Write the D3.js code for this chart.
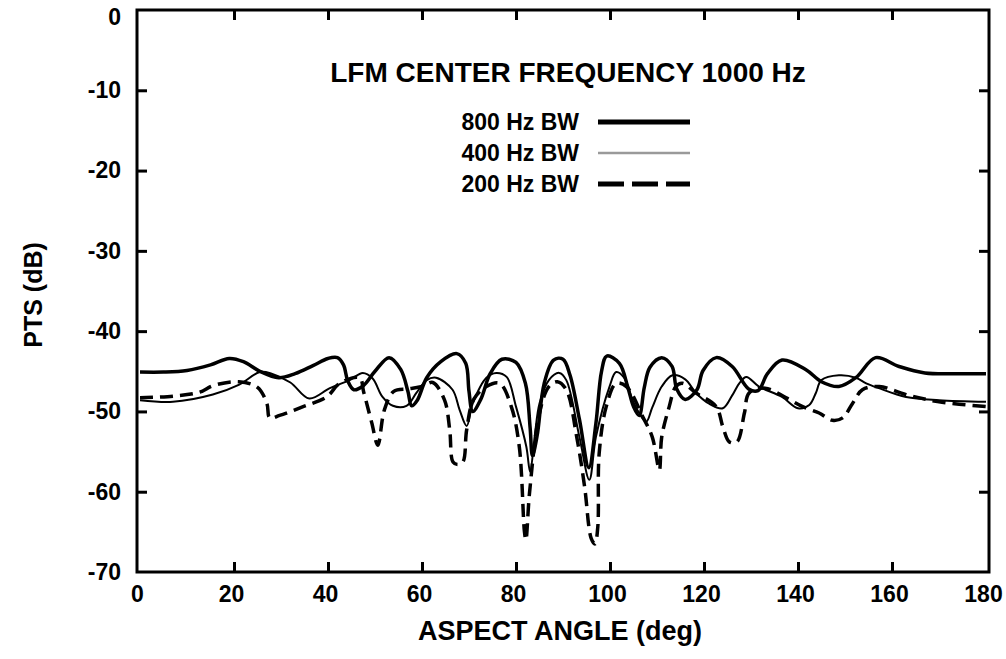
<!DOCTYPE html>
<html>
<head>
<meta charset="utf-8">
<script src="https://cdn.jsdelivr.net/npm/d3@7"></script>
<style>
  body { margin: 0; background: #fff; }
  text { font-family: "Liberation Sans", Arial, Helvetica, sans-serif; font-weight: bold; fill: #000; }
</style>
</head>
<body>
<div class="chart"></div>
<script>
const width = 1006;
const height = 659;

// tick values
const xTicks = [0, 20, 40, 60, 80, 100, 120, 140, 160, 180];
const yTicks = [0, -10, -20, -30, -40, -50, -60, -70];

// [aspect angle (deg), PTS (dB)]
const bw800 = [
  [0, -45.1], [5, -45.1], [10, -44.9], [15, -44.2], [19, -43.4], [22, -43.8], [25.5, -45.0],
  [29.5, -45.8], [33, -45.3], [36.8, -44.3], [40, -43.4], [42, -43.3], [43.3, -44.2],
  [44.2, -46.2], [45.5, -47.3], [47.5, -46.8], [50, -45.0], [53, -43.3], [55.5, -44.8],
  [57, -47.5], [57.8, -49.3], [59, -48.6], [61, -45.8], [64, -43.8], [67.4, -42.8],
  [69.3, -44.0], [70, -47.5], [70.8, -50.0], [72.5, -48.5], [74.5, -45.3], [77, -43.5],
  [80, -43.9], [82, -46.5], [83, -52], [83.5, -55.5], [84.5, -53], [86, -46.5], [88, -43.6],
  [90, -43.5], [91.5, -45.5], [93.5, -51], [95.5, -57], [97, -51.5], [98.2, -45], [99.3, -43.1],
  [102, -44], [103.8, -47], [105, -49.4], [106.2, -50.5], [107.3, -47], [108.5, -44.5],
  [111, -43.3], [113.2, -44.4], [114.2, -47.2], [116, -48.5], [118.5, -47.3], [119.8, -44.9],
  [122.6, -43.3], [126, -44.4], [129.5, -47.2], [131.5, -47.4], [133.5, -45.3], [136.6, -43.6],
  [141.7, -44.8], [145, -46.3], [148.7, -46.9], [152.3, -45.8], [156.5, -43.3], [161.5, -44.4],
  [167, -45.2], [174, -45.3], [180, -45.3]
];

const bw400 = [
  [0, -48.6], [7, -48.8], [15.5, -47.9], [21, -46.7], [25.5, -45.1], [28, -45.3], [32, -46.4],
  [36, -48.4], [40.4, -47.1], [44.6, -46.1], [47.4, -45.2], [49.5, -45.9], [51.6, -48.2],
  [53.8, -49.3], [56.7, -49.3], [58.8, -47.7], [61, -46.1], [63, -45.8], [66.5, -47.3],
  [68, -49.8], [69.5, -51.8], [70.8, -49], [73.7, -45.8], [75.8, -45.2], [78, -45.7],
  [80, -49.4], [82.2, -54.4], [83, -57.5], [84, -53], [85, -49], [87, -46.1], [89.2, -45.2],
  [90.7, -46.1], [93.5, -53.2], [95.6, -58.5], [97, -53.2], [99.9, -46.9], [101.3, -45.1],
  [103, -45.8], [104.8, -48.6], [106.2, -50.2], [107.7, -51.3], [109, -49.5], [111, -46.9],
  [113.3, -45.5], [116, -46], [118.3, -47.7], [121, -49], [124, -49.6], [126, -48],
  [127.5, -46.5], [129, -45.7], [131.7, -46.9], [136.6, -48.2], [140, -49.6], [142.4, -49.2],
  [143.8, -47.7], [145, -46.1], [148.7, -45.5], [152.3, -45.8], [154.5, -46.5], [157.2, -47.1],
  [163, -48.2], [170, -48.6], [180, -48.8]
];

const bw200 = [
  [0, -48.3], [7, -48.1], [12.7, -47.6], [15.5, -46.8], [21, -46.3], [25, -47], [27, -49],
  [27.6, -50.8], [29.7, -50.5], [34.7, -49.4], [39.7, -48.2], [42.5, -46.5], [46.7, -45.8],
  [47.6, -47.6], [49.3, -51.4], [50.6, -54.2], [52, -49.8], [54, -47.5], [57, -47.2],
  [60, -46.9], [62.3, -46.4], [64.8, -48.6], [65.9, -52.3], [66.6, -56.3], [67.6, -56.6],
  [68.7, -56.3], [69.5, -52.3], [71, -48.5], [73.7, -46.9], [76.5, -46.5], [79, -49.4],
  [80.7, -54.4], [81.8, -65], [82.1, -66], [82.9, -60], [85, -50.2], [87, -46.9], [88.8, -46.3],
  [90.7, -47.3], [92.9, -53.1], [94.6, -59.4], [96, -65.8], [96.8, -66.5], [97.4, -64.4],
  [97.7, -55.2], [99.2, -49.4], [101.3, -46.5], [103.5, -46.9], [107, -50.7], [109, -53.2],
  [110.5, -57.3], [111, -53.2], [112.6, -49.4], [114, -46.9], [115.4, -46.5], [118.3, -47.7],
  [122.6, -49.4], [124, -51.9], [125.4, -53.8], [127, -53.8], [128.6, -50.2], [129.6, -47.7],
  [133, -47.1], [137.5, -48.3], [141, -49.4], [144.5, -50.2], [147.3, -51.1], [149.5, -50.8],
  [151.6, -49], [153.7, -47.3], [157.3, -46.9], [163, -47.9], [170, -48.8], [180, -49.4]
];

const legendNames = ["800 Hz BW", "400 Hz BW", "200 Hz BW"];
const chartTitle = "LFM CENTER FREQUENCY 1000 Hz";

const svg = d3.select(".chart")
  .append("svg")
  .attr("width", width)
  .attr("height", height)
  .style("background", "#fff");

const x = d3.scaleLinear().domain([0, 180]).range([140, 986]);
const y = d3.scaleLinear().domain([-70, 0]).range([572, 10]);

const left = 137, right = 989;

// inward ticks on all four sides, labels only left and bottom
const styleAxis = g => {
  g.select(".domain").remove();
  g.selectAll(".tick line").attr("stroke", "#000").attr("stroke-width", 3);
  g.selectAll(".tick text")
    .style("font-size", "23px")
    .style("font-family", "'Liberation Sans', Arial, sans-serif")
    .style("font-weight", "bold");
};

const inner = [20, 40, 60, 80, 100, 120, 140, 160];
const innerY = [-10, -20, -30, -40, -50, -60];

svg.append("g")
  .attr("transform", `translate(0,${y(-70)})`)
  .call(d3.axisBottom(x).tickValues(xTicks).tickSize(-10).tickPadding(14).tickFormat(d => d))
  .call(styleAxis)
  .call(g => g.selectAll(".tick text").attr("dx", -3))
  .call(g => g.selectAll(".tick line").filter(d => d === 0 || d === 180).remove());

svg.append("g")
  .attr("transform", `translate(0,${y(0)})`)
  .call(d3.axisTop(x).tickValues(inner).tickSize(-10).tickFormat(""))
  .call(styleAxis);

svg.append("g")
  .attr("transform", `translate(${left},0)`)
  .call(d3.axisLeft(y).tickValues(yTicks).tickSize(-10).tickPadding(16).tickFormat(d => d))
  .call(styleAxis)
  .call(g => g.selectAll(".tick text").filter(d => d === 0).attr("dy", "0.62em"))
  .call(g => g.selectAll(".tick line").filter(d => d === 0 || d === -70).remove());

svg.append("g")
  .attr("transform", `translate(${right},0)`)
  .call(d3.axisRight(y).tickValues(innerY).tickSize(-10).tickFormat(""))
  .call(styleAxis);

// frame
svg.append("rect")
  .attr("x", left)
  .attr("y", y(0))
  .attr("width", right - left)
  .attr("height", y(-70) - y(0))
  .attr("fill", "none")
  .attr("stroke", "#000")
  .attr("stroke-width", 3);

const line = d3.line()
  .x(d => x(d[0]))
  .y(d => y(d[1]))
  .curve(d3.curveCatmullRom.alpha(0.5));

svg.append("path")
  .datum(bw400)
  .attr("d", line)
  .attr("fill", "none")
  .attr("stroke", "#000")
  .attr("stroke-width", 2);

svg.append("path")
  .datum(bw200)
  .attr("d", line)
  .attr("fill", "none")
  .attr("stroke", "#000")
  .attr("stroke-width", 3.5)
  .attr("stroke-dasharray", "13,7");

svg.append("path")
  .datum(bw800)
  .attr("d", line)
  .attr("fill", "none")
  .attr("stroke", "#000")
  .attr("stroke-width", 3.5)
  .attr("stroke-linejoin", "round");

// legend
svg.append("text")
  .attr("x", 568)
  .attr("y", 82)
  .attr("text-anchor", "middle")
  .style("font-size", "28px")
  .text(chartTitle);

const legendStyles = [
  { color: "#000", w: 5, dash: null },
  { color: "#9a9a9a", w: 2.5, dash: null },
  { color: "#000", w: 5, dash: "26,8" }
];

const legend = svg.selectAll(".legend")
  .data(legendNames)
  .enter()
  .append("g")
  .attr("class", "legend")
  .attr("transform", (d, i) => `translate(0,${130 + i * 31})`);

legend.append("text")
  .attr("x", 579)
  .attr("y", 0)
  .attr("text-anchor", "end")
  .style("font-size", "23px")
  .text(d => d);

legend.append("line")
  .attr("x1", 598)
  .attr("x2", 690)
  .attr("y1", -8)
  .attr("y2", -8)
  .attr("stroke", (d, i) => legendStyles[i].color)
  .attr("stroke-width", (d, i) => legendStyles[i].w)
  .attr("stroke-dasharray", (d, i) => legendStyles[i].dash);

// axis titles
svg.append("text")
  .attr("transform", "translate(42,295) rotate(-90)")
  .attr("text-anchor", "middle")
  .style("font-size", "25px")
  .text("PTS (dB)");

svg.append("text")
  .attr("x", 560)
  .attr("y", 640)
  .attr("text-anchor", "middle")
  .style("font-size", "27px")
  .text("ASPECT ANGLE (deg)");
</script>
</body>
</html>
